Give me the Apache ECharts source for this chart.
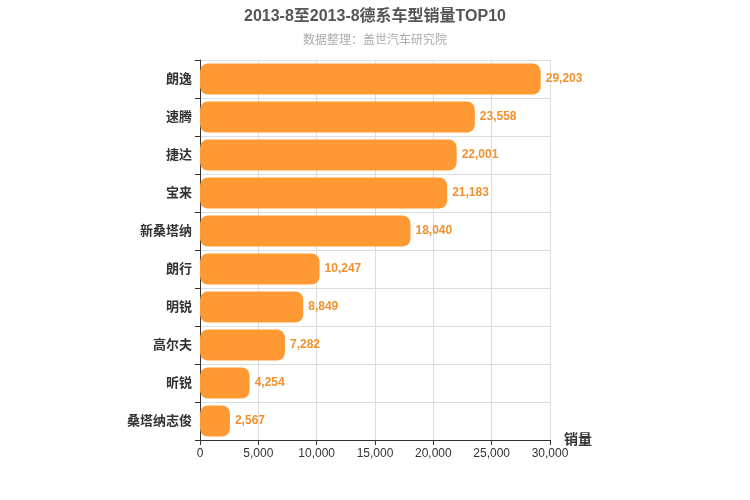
<!DOCTYPE html>
<html><head><meta charset="utf-8">
<script src="https://cdn.jsdelivr.net/npm/echarts@6/dist/echarts.min.js"></script>
<style>html,body{margin:0;padding:0;background:#fff}#c{width:750px;height:500px}</style>
</head><body><div id="c"></div>
<script>
// 车型与销量(自上而下)
var models = ['朗逸', '速腾', '捷达', '宝来', '新桑塔纳', '朗行', '明锐', '高尔夫', '昕锐', '桑塔纳志俊'];
var sales = [29203, 23558, 22001, 21183, 18040, 10247, 8849, 7282, 4254, 2567];
var xTicks = [0, 5000, 10000, 15000, 20000, 25000, 30000];

var chart = echarts.init(document.getElementById('c'));
chart.setOption({
    textStyle: { fontFamily: 'Liberation Sans, Noto Sans CJK SC' },
    title: {
        text: '2013-8至2013-8德系车型销量TOP10',
        subtext: '数据整理：盖世汽车研究院',
        left: 'center', top: 4,
        textStyle: { fontSize: 16, fontWeight: 'bold', color: '#555' },
        subtextStyle: { fontSize: 12, color: '#aaa' },
        itemGap: 10
    },
    grid: { left: 200, right: 200, top: 60, bottom: 60 },
    xAxis: {
        type: 'value', min: xTicks[0], max: xTicks[xTicks.length - 1], interval: 5000,
        name: '销量', nameLocation: 'end', nameGap: 14,
        nameTextStyle: { fontSize: 14, fontWeight: 'bold', color: '#333', verticalAlign: 'middle' },
        axisLine: { show: true, lineStyle: { color: '#333' } },
        axisTick: { show: true },
        axisLabel: { color: '#333', fontSize: 12, formatter: function (v) { return v.toLocaleString('en-US'); } },
        splitLine: { lineStyle: { color: '#ddd' } }
    },
    yAxis: {
        type: 'category', data: models, inverse: true,
        axisLine: { lineStyle: { color: '#333' } },
        axisTick: { show: true },
        axisLabel: { color: '#333', fontSize: 13, fontWeight: 'bold' },
        splitLine: { show: true, lineStyle: { color: '#ddd' } }
    },
    series: [{
        type: 'bar', data: sales, barWidth: '82%',
        itemStyle: { color: '#ff9933', borderRadius: 8 },
        label: {
            show: true, position: 'right', color: '#f0922e', fontSize: 12, fontWeight: 'bold',
            formatter: function (p) { return p.value.toLocaleString('en-US'); }
        }
    }]
});
</script></body></html>
